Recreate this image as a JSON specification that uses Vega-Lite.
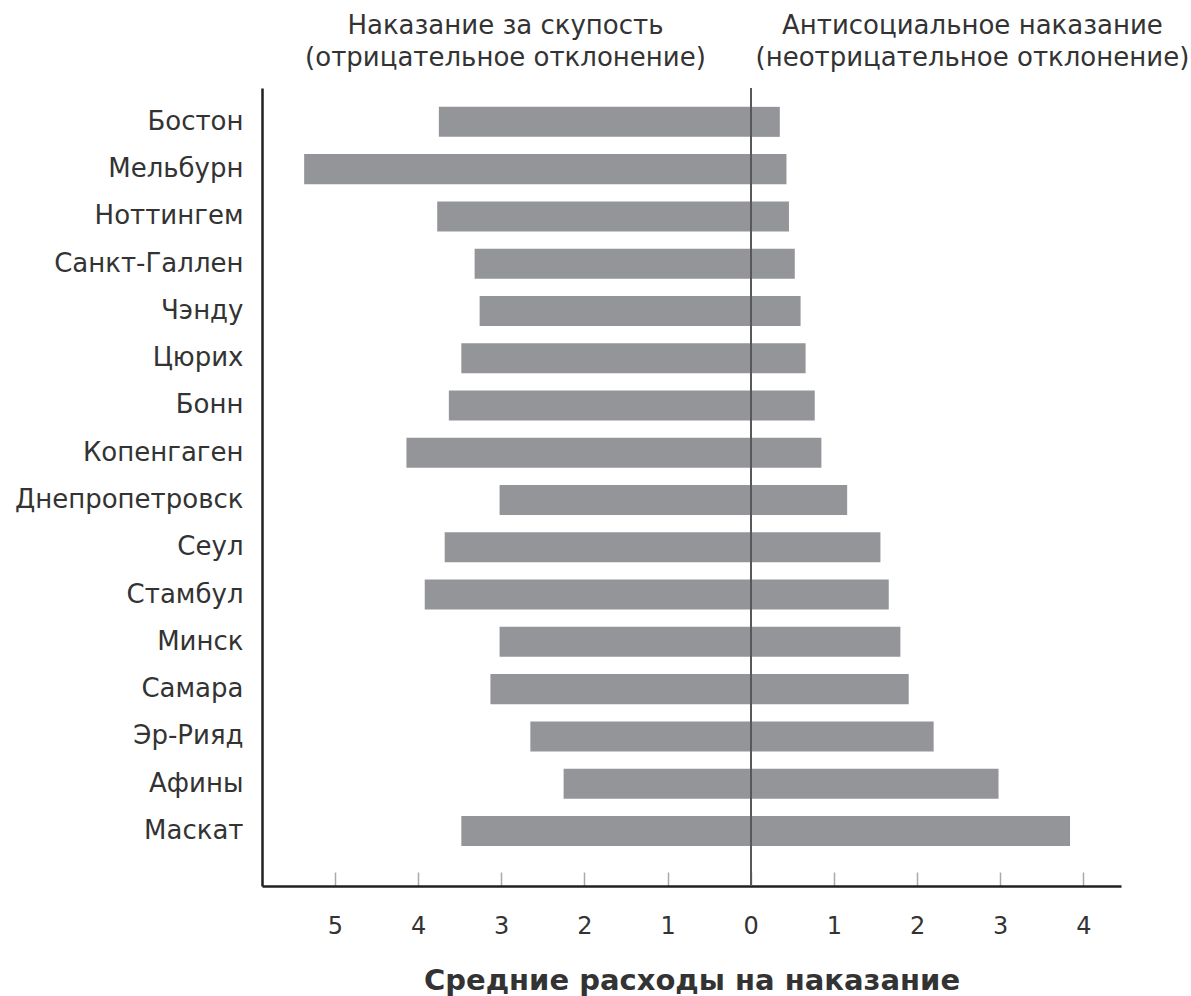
{
  "$schema": "https://vega.github.io/schema/vega-lite/v6.json",
  "autosize": {"type": "none"},
  "padding": {"left": 262, "top": 88, "right": 70, "bottom": 110},
  "width": 859,
  "height": 798,
  "background": "white",
  "config": {
    "view": {"stroke": null},
    "font": "DejaVu Sans",
    "axis": {"labelFont": "DejaVu Sans", "titleFont": "DejaVu Sans", "grid": false, "labelLimit": 1000}
  },
  "data": {
    "values": [
      {"city": "Бостон", "side": "neg", "value": -3.75},
      {"city": "Бостон", "side": "pos", "value": 0.35},
      {"city": "Мельбурн", "side": "neg", "value": -5.37},
      {"city": "Мельбурн", "side": "pos", "value": 0.43},
      {"city": "Ноттингем", "side": "neg", "value": -3.77},
      {"city": "Ноттингем", "side": "pos", "value": 0.46},
      {"city": "Санкт-Галлен", "side": "neg", "value": -3.32},
      {"city": "Санкт-Галлен", "side": "pos", "value": 0.53},
      {"city": "Чэнду", "side": "neg", "value": -3.26},
      {"city": "Чэнду", "side": "pos", "value": 0.6},
      {"city": "Цюрих", "side": "neg", "value": -3.48},
      {"city": "Цюрих", "side": "pos", "value": 0.66},
      {"city": "Бонн", "side": "neg", "value": -3.63},
      {"city": "Бонн", "side": "pos", "value": 0.77},
      {"city": "Копенгаген", "side": "neg", "value": -4.14},
      {"city": "Копенгаген", "side": "pos", "value": 0.85},
      {"city": "Днепропетровск", "side": "neg", "value": -3.02},
      {"city": "Днепропетровск", "side": "pos", "value": 1.16},
      {"city": "Сеул", "side": "neg", "value": -3.68},
      {"city": "Сеул", "side": "pos", "value": 1.56},
      {"city": "Стамбул", "side": "neg", "value": -3.92},
      {"city": "Стамбул", "side": "pos", "value": 1.66},
      {"city": "Минск", "side": "neg", "value": -3.02},
      {"city": "Минск", "side": "pos", "value": 1.8},
      {"city": "Самара", "side": "neg", "value": -3.13},
      {"city": "Самара", "side": "pos", "value": 1.9},
      {"city": "Эр-Рияд", "side": "neg", "value": -2.65},
      {"city": "Эр-Рияд", "side": "pos", "value": 2.2},
      {"city": "Афины", "side": "neg", "value": -2.25},
      {"city": "Афины", "side": "pos", "value": 2.98},
      {"city": "Маскат", "side": "neg", "value": -3.48},
      {"city": "Маскат", "side": "pos", "value": 3.84}
    ]
  },
  "resolve": {"axis": {"x": "independent"}},
  "layer": [
    {
      "mark": {"type": "bar", "color": "#939598"},
      "encoding": {
        "y": {
          "field": "city",
          "type": "nominal",
          "sort": null,
          "scale": {"paddingInner": 0.365, "paddingOuter": 0.623, "align": 0.32},
          "axis": {
            "title": null,
            "ticks": false,
            "domainColor": "#231f20",
            "domainWidth": 2.5,
            "labelFontSize": 26,
            "labelColor": "#333333",
            "labelPadding": 19
          }
        },
        "x": {
          "field": "value",
          "type": "quantitative",
          "scale": {"domain": [-5.877, 4.453], "nice": false, "zero": false},
          "axis": {
            "orient": "bottom",
            "values": [-5, -4, -3, -2, -1, 0, 1, 2, 3, 4],
            "labelExpr": "format(abs(datum.value), 'd')",
            "domainColor": "#231f20",
            "domainWidth": 2.5,
            "tickColor": "#a7a9ac",
            "tickWidth": 1.5,
            "tickSize": -14,
            "labelFontSize": 24,
            "labelColor": "#333333",
            "labelPadding": 42,
            "labelFlush": false,
            "title": "Средние расходы на наказание",
            "titleFontSize": 29,
            "titleFontWeight": "bold",
            "titleColor": "#333333",
            "titlePadding": 28
          }
        }
      }
    },
    {
      "mark": {"type": "rule", "color": "#58595b", "strokeWidth": 1},
      "encoding": {
        "x": {
          "datum": 0,
          "type": "quantitative",
          "scale": {"domain": [-5.877, 4.453], "nice": false, "zero": false},
          "axis": {
            "orient": "top",
            "values": [-2.955, 2.66],
            "labelExpr": "datum.value < 0 ? ['Наказание за скупость', '(отрицательное отклонение)'] : ['Антисоциальное наказание', '(неотрицательное отклонение)']",
            "domain": false,
            "ticks": false,
            "labelFontSize": 26,
            "labelColor": "#333333",
            "labelLineHeight": 32,
            "labelPadding": 50,
            "labelFlush": false,
            "labelBound": false,
            "labelOverlap": false,
            "title": null
          }
        }
      }
    }
  ]
}
